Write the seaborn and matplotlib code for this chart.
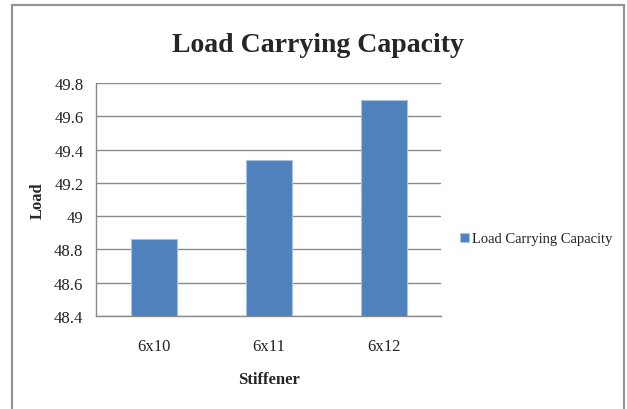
import matplotlib
matplotlib.use("Agg")
import matplotlib.pyplot as plt
from matplotlib.patches import Rectangle
import seaborn as sns
import pandas as pd

stiffeners = ["6x10", "6x11", "6x12"]
loads = [48.86, 49.34, 49.70]
series_name = "Load Carrying Capacity"
y_ticks = [48.4, 48.6, 48.8, 49.0, 49.2, 49.4, 49.6, 49.8]
y_tick_labels = ["48.4", "48.6", "48.8", "49", "49.2", "49.4", "49.6", "49.8"]

sns.set_style("white")
plt.rcParams["font.family"] = ["Liberation Serif", "DejaVu Serif"]

df = pd.DataFrame({"Stiffener": stiffeners, "Load": loads, "Series": series_name})

fig = plt.figure(figsize=(6.27, 4.10), dpi=100)
fig.patch.set_facecolor("white")

# outer chart frame
W, H = 627, 410
fig.patches.append(Rectangle((12 / W, -0.05), (624 - 12) / W, (410 - 6) / H + 0.05,
                             transform=fig.transFigure, fill=False,
                             edgecolor="#959595", linewidth=1.6, zorder=0))

ax = fig.add_axes([96 / W, 1 - 317 / H, (441 - 96) / W, (317 - 84) / H])
bar_color = "#4F81BD"
sns.barplot(data=df, x="Stiffener", y="Load", hue="Series", palette=[bar_color],
            saturation=1, width=0.4, ax=ax, edgecolor="#a9c1e0", linewidth=0.8,
            zorder=3)

ax.set_ylim(48.4, 49.8)
ax.set_xlim(-0.5, 2.5)
ax.set_yticks(y_ticks)
ax.set_yticklabels(y_tick_labels, fontsize=12)
ax.yaxis.grid(True, color="#8a8a8a", linewidth=1.0, zorder=0)
ax.set_axisbelow(True)

for s in ["top", "right"]:
    ax.spines[s].set_visible(False)
for s in ["left", "bottom"]:
    ax.spines[s].set_color("#8a8a8a")
    ax.spines[s].set_linewidth(1.0)

ax.tick_params(axis="y", which="major", length=5, width=1.0, color="#8a8a8a",
               direction="out", pad=4, labelcolor="#222222")
ax.set_xticks([0, 1, 2])
ax.set_xticklabels(stiffeners, fontsize=12, color="#222222")
ax.tick_params(axis="x", which="major", length=0, pad=16)
ax.set_xticks([-0.5, 0.5, 1.5, 2.5], minor=True)
ax.tick_params(axis="x", which="minor", length=5, width=1.0, color="#8a8a8a",
               direction="out")

ax.set_xlabel("Stiffener", fontsize=12, fontweight="bold")
ax.xaxis.set_label_coords(0.5, -(380 - 317) / (317 - 84), transform=ax.transAxes)
ax.xaxis.label.set_va("center")
ax.set_ylabel("Load", fontsize=12, fontweight="bold")
ax.yaxis.set_label_coords(-(96 - 38) / (441 - 96), 0.5, transform=ax.transAxes)
ax.yaxis.label.set_va("center")

fig.text(318 / W, 1 - 52 / H, "Load Carrying Capacity", ha="center", va="baseline",
         fontsize=20, fontweight="bold")

leg = ax.legend(loc="center left", bbox_to_anchor=(460 / W, 1 - 240 / H),
                bbox_transform=fig.transFigure, frameon=False, fontsize=10.5,
                handlelength=0.6, handleheight=0.6, handletextpad=0.25,
                borderpad=0, borderaxespad=0)
for t in leg.get_texts():
    t.set_color("#222222")

fig.savefig("out.png", dpi=100)
